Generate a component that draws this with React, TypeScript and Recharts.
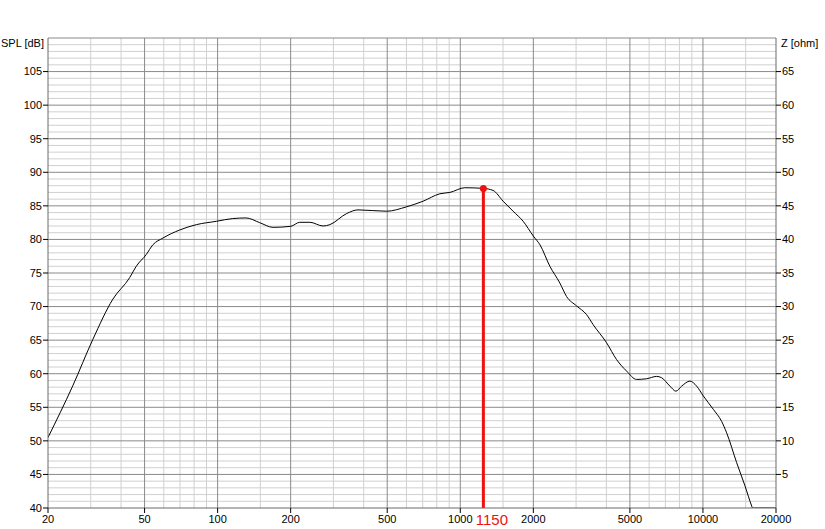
import {
  LineChart,
  Line,
  XAxis,
  YAxis,
  CartesianGrid,
  ReferenceLine,
  ReferenceDot,
  Label,
} from "recharts";

// frequency response (Hz / dB SPL)
const freqs = [
  20, 25.3, 30.6, 37, 43.4, 46.2, 50.8, 54.1, 59.5, 69.7, 81.7, 98.8, 115, 131,
  149, 169, 200, 218, 240, 272, 290, 340, 379, 496, 600, 703, 824, 906, 1044,
  1245, 1365, 1501, 1651, 1816, 2000, 2130, 2340, 2573, 2742, 3015, 3315, 3529,
  4009, 4407, 4843, 5329, 5860, 6442, 6758, 7311, 7740, 8170, 8840, 9420,
  10030, 11030, 11940, 12520, 13770, 14900, 15880, 16000, 20000,
];
const spl = [
  50.5, 58.2, 65.1, 71.1, 74.3, 76.0, 77.75, 79.2, 80.2, 81.4, 82.2, 82.7, 83.1,
  83.2, 82.5, 81.8, 81.95, 82.55, 82.55, 82.0, 82.2, 83.85, 84.4, 84.2, 84.85,
  85.7, 86.8, 87.0, 87.7, 87.6, 87.3, 85.7, 84.2, 82.7, 80.5, 79.2, 76.0, 73.5,
  71.5, 70.1, 68.8, 67.3, 64.6, 62.1, 60.4, 59.15, 59.25, 59.6, 59.4, 58.15,
  57.4, 58.15, 58.9, 58.15, 56.7, 54.7, 52.9, 51.2, 46.75, 43.3, 40.3, 40, 40,
];

const freqDomain = [20, 20000];
const splDomain = [40, 110];
const zDomain = [0, 70];
const freqTicks = [20, 50, 100, 200, 500, 1000, 2000, 5000, 10000, 20000];
const majorFreqs = [50, 100, 200, 500, 1000, 2000, 5000, 10000];
const minorFreqs = [
  30, 40, 60, 70, 80, 90, 150, 300, 400, 600, 700, 800, 900, 1500, 3000, 4000,
  6000, 7000, 8000, 9000, 15000,
];
const splTicks = [40, 45, 50, 55, 60, 65, 70, 75, 80, 85, 90, 95, 100, 105];
const majorDb = [45, 50, 55, 60, 65, 70, 75, 80, 85, 90, 95, 100, 105, 110];
const minorDb = Array.from({ length: 69 }, (_, i) => 41 + i).filter((v) => v % 5 !== 0);
const zTicks = [5, 10, 15, 20, 25, 30, 35, 40, 45, 50, 55, 60, 65];

// cursor marker
const markerFreq = 1245;
const markerDb = 87.6;
const markerLabel = "1150";

// no impedance curve is drawn, the z column stays empty
const data = freqs.map((f, i) => ({ f, spl: spl[i], z: null }));

const font = "'Liberation Sans', Arial, sans-serif";
const tickStyle = { fontSize: 11, fill: "#000", fontFamily: font };

// grid generators: same log / linear mapping as the axes, using the plot offset
const vGen = (list: number[]) => ({ offset }: any) =>
  list.map(
    (f) =>
      offset.left +
      (Math.log10(f / freqDomain[0]) / Math.log10(freqDomain[1] / freqDomain[0])) * offset.width
  );
const hGen = (list: number[]) => ({ offset }: any) =>
  list.map(
    (v) =>
      offset.top +
      offset.height -
      ((v - splDomain[0]) / (splDomain[1] - splDomain[0])) * offset.height
  );

export default function App() {
  return (
    <div style={{ position: "absolute", left: 0, top: 0, background: "#fff" }}>
      <LineChart
        width={825}
        height={529}
        data={data}
        margin={{ top: 38, right: 0, bottom: 0, left: 0 }}
      >
        <CartesianGrid
          xAxisId="f"
          yAxisId="spl"
          stroke="#d0d0d0"
          verticalCoordinatesGenerator={vGen(minorFreqs)}
          horizontalCoordinatesGenerator={hGen(minorDb)}
        />
        <CartesianGrid
          xAxisId="f"
          yAxisId="spl"
          stroke="#8a8a8a"
          verticalCoordinatesGenerator={vGen(majorFreqs)}
          horizontalCoordinatesGenerator={hGen(majorDb)}
        />
        <XAxis
          xAxisId="f"
          dataKey="f"
          type="number"
          scale="log"
          domain={freqDomain}
          allowDataOverflow
          ticks={freqTicks}
          height={21}
          tickSize={5}
          tickMargin={2}
          axisLine={{ stroke: "#6a6a6a" }}
          tickLine={{ stroke: "#000" }}
          tick={tickStyle}
        />
        <YAxis
          yAxisId="spl"
          domain={splDomain}
          ticks={splTicks}
          allowDataOverflow
          width={48}
          tickSize={5}
          tickMargin={1}
          axisLine={{ stroke: "#6a6a6a" }}
          tickLine={{ stroke: "#000" }}
          tick={tickStyle}
        >
          <Label
            content={({ viewBox }: any) => (
              <text
                x={viewBox.x + viewBox.width - 4}
                y={viewBox.y + 8.5}
                textAnchor="end"
                style={tickStyle}
              >
                SPL [dB]
              </text>
            )}
          />
        </YAxis>
        <YAxis
          yAxisId="z"
          orientation="right"
          type="number"
          domain={zDomain}
          allowDataOverflow
          ticks={zTicks}
          width={49}
          tickSize={5}
          tickMargin={1}
          axisLine={{ stroke: "#6a6a6a" }}
          tickLine={{ stroke: "#000" }}
          tick={tickStyle}
        >
          <Label
            content={({ viewBox }: any) => (
              <text x={viewBox.x + 5} y={viewBox.y + 8.5} textAnchor="start" style={tickStyle}>
                Z [ohm]
              </text>
            )}
          />
        </YAxis>
        <Line
          xAxisId="f"
          yAxisId="z"
          dataKey="z"
          stroke="none"
          dot={false}
          legendType="none"
          isAnimationActive={false}
        />
        <Line
          xAxisId="f"
          yAxisId="spl"
          type="monotone"
          dataKey="spl"
          stroke="#000"
          strokeWidth={1}
          dot={false}
          isAnimationActive={false}
        />
        <ReferenceLine
          xAxisId="f"
          yAxisId="spl"
          segment={[
            { x: markerFreq, y: 40 },
            { x: markerFreq, y: markerDb },
          ]}
          stroke="#ee1111"
          strokeWidth={3}
          label={({ viewBox }: any) => (
            <text
              x={viewBox.x + 8.5}
              y={viewBox.y + viewBox.height + 16.5}
              textAnchor="middle"
              fill="#ee1111"
              fontSize={15}
              fontFamily={font}
            >
              {markerLabel}
            </text>
          )}
        />
        <ReferenceDot
          xAxisId="f"
          yAxisId="spl"
          x={markerFreq}
          y={markerDb}
          r={3.5}
          fill="#ee1111"
          stroke="none"
        />
      </LineChart>
    </div>
  );
}
